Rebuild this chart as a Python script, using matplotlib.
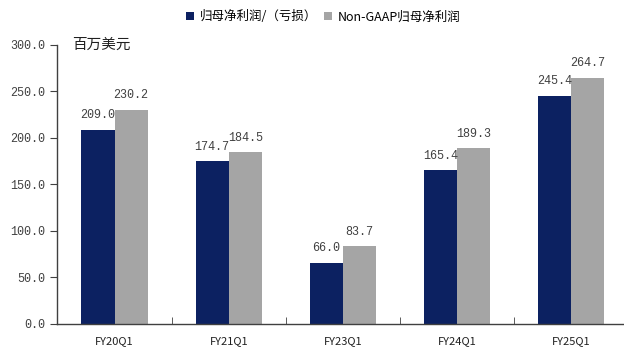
import numpy as np
import matplotlib.pyplot as plt

plt.rcParams['font.family'] = ['Noto Sans CJK SC', 'DejaVu Sans']

quarters = ['FY20Q1', 'FY21Q1', 'FY23Q1', 'FY24Q1', 'FY25Q1']
net_income = [209.0, 174.7, 66.0, 165.4, 245.4]
non_gaap = [230.2, 184.5, 83.7, 189.3, 264.7]
yticks = [0, 50, 100, 150, 200, 250, 300]

c_dark = '#0c2161'
c_gray = '#a5a5a5'
mono = ['Liberation Mono', 'DejaVu Sans Mono']

fig = plt.figure(figsize=(6.24, 3.54), dpi=100)
# 坐标轴右端超出画布一点
ax = fig.add_axes([0.092, 0.085, 0.915, 0.788])

x = np.arange(len(quarters))
w = 0.29
b1 = ax.bar(x - w / 2, net_income, w, color=c_dark, label='归母净利润/（亏损）')
b2 = ax.bar(x + w / 2, non_gaap, w, color=c_gray, label='Non-GAAP归母净利润')

for bars, vals in ((b1, net_income), (b2, non_gaap)):
    for r, v in zip(bars, vals):
        ax.text(r.get_x() + r.get_width() / 2, v + 9, f'{v:.1f}',
                ha='center', va='bottom', fontsize=8.5, color='#404040', family=mono)

ax.set_xlim(-0.5, len(quarters) - 0.5)
ax.set_ylim(0, 300)
ax.set_yticks(yticks)
ax.set_yticklabels([f'{t:.1f}' for t in yticks], family=mono, fontsize=8.5, color='#404040')
ax.set_xticks(x)
ax.set_xticklabels(quarters, fontsize=8, color='#202020')
ax.tick_params(axis='x', length=0, pad=9)
ax.set_xticks(np.arange(0.5, len(quarters) - 0.5, 1), minor=True)
ax.tick_params(axis='x', which='minor', direction='in', length=5, color='#404040')
ax.tick_params(axis='y', direction='out', length=5, color='#404040')

for s in ('top', 'right'):
    ax.spines[s].set_visible(False)
for s in ('left', 'bottom'):
    ax.spines[s].set_color('#404040')
    ax.spines[s].set_linewidth(1.0)

ax.text(0.026, 1.0, '百万美元', transform=ax.transAxes, fontsize=10.5, va='center', ha='left',
        color='#202020', fontweight='medium')

fig.legend(handles=[b1, b2], loc='center', bbox_to_anchor=(0.518, 0.952), ncol=2, frameon=False,
           fontsize=9, handlelength=0.65, handleheight=0.65, handletextpad=0.4, columnspacing=0.6)

fig.savefig('out.png', dpi=100)
